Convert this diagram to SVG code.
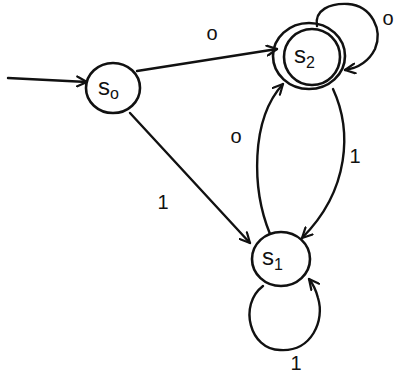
<svg xmlns="http://www.w3.org/2000/svg" width="400" height="376" viewBox="0 0 400 376">
<defs>
<style>
.st{fill:none;stroke:#111;stroke-width:2.6;stroke-linecap:round;stroke-linejoin:round}
.ed{fill:none;stroke:#111;stroke-width:2.4;stroke-linecap:round}
.lb{font-family:"Liberation Sans",Arial,sans-serif;font-size:20px;fill:#111}
.nm{font-family:"Liberation Sans",Arial,sans-serif;font-size:24px;fill:#111}
.sub{font-size:16px}
</style>
<marker id="ah" viewBox="0 0 12 12" refX="11" refY="6" markerWidth="12" markerHeight="12" markerUnits="userSpaceOnUse" orient="auto">
<path d="M1,1 L11,6 L1,11" fill="none" stroke="#111" stroke-width="2.2" stroke-linecap="round" stroke-linejoin="round"/>
</marker>
</defs>
<rect width="400" height="376" fill="#fff"/>
<g id="connectors">
<path class="ed" d="M8,78 L87,82" marker-end="url(#ah)"/>
<path class="ed" d="M137,71 L277,49" marker-end="url(#ah)"/>
<path class="ed" d="M130,113 L250,243" marker-end="url(#ah)"/>
<path class="ed" d="M270,234 C252,190 250,120 283,84" marker-end="url(#ah)"/>
<path class="ed" d="M333,89 C352,130 350,190 302,238" marker-end="url(#ah)"/>
<path class="ed" d="M317,26 C314,10 330,3 348,4 C372,6 383,30 375,49 C369,61 358,68 345,70" marker-end="url(#ah)"/>
<path class="ed" d="M263,286 C238,305 250,350 280,350 C312,352 325,320 318,298 C316,290 313,284 309,279" marker-end="url(#ah)"/>
<text class="lb" x="212" y="40" text-anchor="middle">o</text>
<text class="lb" x="163" y="209" text-anchor="middle">1</text>
<text class="lb" x="236" y="143" text-anchor="middle">o</text>
<text class="lb" x="355" y="163" text-anchor="middle">1</text>
<text class="lb" x="388" y="25" text-anchor="middle">o</text>
<text class="lb" x="296" y="370" text-anchor="middle">1</text>
</g>
<g id="S0">
<ellipse class="st" cx="113" cy="88" rx="27" ry="25"/>
<text class="nm" x="98" y="95">s<tspan class="sub" dy="4">o</tspan></text>
</g>
<g id="S2">
<ellipse class="st" cx="309" cy="56" rx="36" ry="33"/>
<ellipse class="st" cx="312" cy="57" rx="28" ry="28"/>
<text class="nm" x="294" y="63">s<tspan class="sub" dy="5">2</tspan></text>
</g>
<g id="S1">
<ellipse class="st" cx="281" cy="259" rx="29" ry="27"/>
<text class="nm" x="262" y="265">s<tspan class="sub" dy="5">1</tspan></text>
</g>
</svg>
